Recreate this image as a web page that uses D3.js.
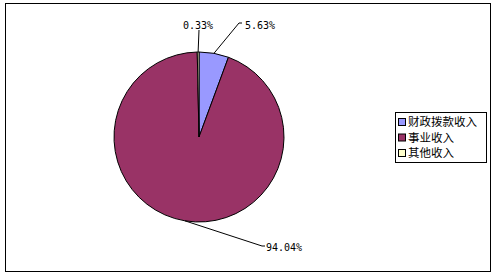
<!DOCTYPE html>
<html><head><meta charset="utf-8">
<script src="https://cdn.jsdelivr.net/npm/d3@7"></script>
<style>html,body{margin:0;padding:0;background:#fff;}svg{display:block;}</style>
</head><body>
<script>
// ---- data ----
const categories = ["财政拨款收入", "事业收入", "其他收入"];
const values = [5.63, 94.04, 0.33];
const valueLabels = ["5.63%", "94.04%", "0.33%"];
const colors = ["#9999FF", "#993366", "#FFFFCC"];

// ---- layout ----
const W = 495, H = 276;
const cx = 199, cy = 137, R = 85;
// label layout: elbow and text anchor offsets relative to pie centre
const labelLayout = [
  {elbow: [40, -114], end: [43, -114], text: [46, -112], anchor: "start"},
  {elbow: [63, 109], end: [66, 109], text: [67, 110], anchor: "start"},
  {elbow: null, end: [0, -107], text: [-1, -112], anchor: "middle"}
];

const svg = d3.select("body").append("svg").attr("width", W).attr("height", H);
svg.append("rect").attr("x", 5.5).attr("y", 3.5).attr("width", 485).attr("height", 268)
  .attr("fill", "#fff").attr("stroke", "#000").attr("stroke-width", 1);

const pie = d3.pie().sort(null).value(d => d)(values);
const arc = d3.arc().innerRadius(0).outerRadius(R);
const g = svg.append("g").attr("transform", `translate(${cx},${cy})`);
g.selectAll("path.slice").data(pie).join("path")
  .attr("class", "slice")
  .attr("d", arc)
  .attr("fill", (d, i) => colors[i])
  .attr("stroke", "#000").attr("stroke-width", 1);

// leader lines + labels
pie.forEach((d, i) => {
  const mid = (d.startAngle + d.endAngle) / 2;
  const p0 = [R * Math.sin(mid), -R * Math.cos(mid)];
  const L = labelLayout[i];
  const pts = [p0];
  if (L.elbow) pts.push(L.elbow);
  pts.push(L.end);
  g.append("path").attr("d", d3.line()(pts))
    .attr("fill", "none").attr("stroke", "#000").attr("stroke-width", 1);
  g.append("text").attr("x", L.text[0]).attr("y", L.text[1])
    .attr("dy", "0.35em")
    .attr("text-anchor", L.anchor)
    .attr("font-family", "DejaVu Sans Mono, monospace")
    .attr("font-size", 10)
    .attr("fill", "#000")
    .text(valueLabels[i]);
});

// legend
const lg = svg.append("g").attr("transform", "translate(395,112)");
lg.append("rect").attr("x", 0.5).attr("y", 0.5).attr("width", 91).attr("height", 50)
  .attr("fill", "#fff").attr("stroke", "#000").attr("stroke-width", 1);
const rows = lg.selectAll("g.row").data(categories).join("g")
  .attr("class", "row")
  .attr("transform", (d, i) => `translate(0,${10 + i * 15.5})`);
rows.append("rect").attr("x", 3.5).attr("y", -3.5).attr("width", 7).attr("height", 7)
  .attr("fill", (d, i) => colors[i]).attr("stroke", "#000").attr("stroke-width", 1);
rows.append("text").attr("x", 13).attr("y", 0).attr("dy", "0.35em")
  .attr("font-family", "Noto Sans CJK SC, sans-serif")
  .attr("font-size", 11.5)
  .attr("fill", "#000")
  .text(d => d);
</script>
</body></html>
